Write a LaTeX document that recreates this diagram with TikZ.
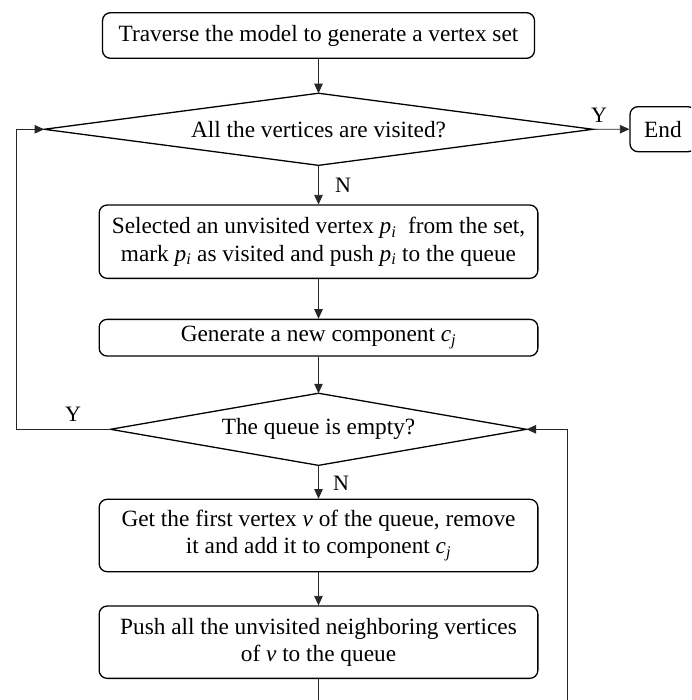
\documentclass[tikz,border=0pt]{standalone}
\usepackage{fontspec}
\setmainfont{Liberation Serif}
\usetikzlibrary{arrows.meta}

% italic variable with italic subscript
\newcommand\ivar[2]{\textit{#1}\textsubscript{\textit{#2}}}

\tikzset{
  base/.style={font=\fontsize{23.3}{27.5}\selectfont, inner sep=0pt, align=center},
  procbox/.style={base, draw=black, line width=1.3pt, rounded corners=8pt,
                  minimum width=438.7pt},
  decision/.style={base},
  diamondline/.style={draw=black, line width=1.3pt},
  flow/.style={draw=black!85, line width=0.8pt, -{Triangle[length=9.5pt,width=8.5pt]}},
  plain/.style={draw=black!85, line width=0.8pt},
  lbl/.style={font=\fontsize{22}{22}\selectfont, inner sep=0pt}
}

\begin{document}
\begin{tikzpicture}[x=1pt, y=-1pt]
  \useasboundingbox (0,0) rectangle (691,700);
  \clip (0,0) rectangle (691,700);

  % process boxes
  \node[procbox, minimum width=432pt, minimum height=45.6pt] (start) at (318.5,35.5)
    {Traverse the model to generate a vertex set};
  \node[procbox, minimum height=73.3pt] (select) at (318.5,241.7)
    {Selected an unvisited vertex \ivar{p}{i}\ \ from the set,\\
     mark \ivar{p}{i} as visited and push \ivar{p}{i} to the queue};
  \node[procbox, minimum height=36.7pt] (newcomp) at (318.5,337.7)
    {Generate a new component \ivar{c}{j}};
  \node[procbox, minimum height=72.4pt] (getfirst) at (318.5,535.5)
    {Get the first vertex \textit{v} of the queue, remove\\
     it and add it to component \ivar{c}{j}};
  \node[procbox, minimum height=72.3pt] (pushnb) at (318.5,642.2)
    {Push all the unvisited neighboring vertices\\
     of \textit{v} to the queue};
  \node[procbox, minimum width=66pt, minimum height=45pt] (finish) at (663,129.2) {End};

  % decisions: named frames, outlines drawn through their anchors
  \node[decision, minimum width=548.4pt, minimum height=71.7pt] (allvis) at (318.5,129.3)
    {All the vertices are visited?};
  \node[decision, minimum width=415.6pt, minimum height=71.7pt] (qempty) at (318.5,429.3)
    {The queue is empty?};
  \path[diamondline] (allvis.west) -- (allvis.north) -- (allvis.east) -- (allvis.south) -- cycle;
  \path[diamondline] (qempty.west) -- (qempty.north) -- (qempty.east) -- (qempty.south) -- cycle;

  % loose ends and corners of the return paths
  \coordinate (loopL) at (16,429.3);
  \coordinate (loopLtop) at (16,129.3);
  \coordinate (downend) at (318.5,700);
  \coordinate (loopR) at (567.7,700);
  \coordinate (loopRtop) at (567.7,429.3);

  % main flow
  \path[flow] (start.south) -- (allvis.north);
  \path[flow] (allvis.south) -- (select.north);
  \path[flow] (select.south) -- (newcomp.north);
  \path[flow] (newcomp.south) -- (qempty.north);
  \path[flow] (qempty.south) -- (getfirst.north);
  \path[flow] (getfirst.south) -- (pushnb.north);
  \path[plain] (pushnb.south) -- (downend);
  \path[flow] (allvis.east) -- (finish.west);

  % return paths
  \path[flow] (qempty.west) -- (loopL) -- (loopLtop) -- (allvis.west);
  \path[flow] (loopR) -- (loopRtop) -- (qempty.east);

  % branch labels
  \node[lbl] (nA) at (343,185) {N};
  \node[lbl] (yA) at (599,115) {Y};
  \node[lbl] (nB) at (341,483) {N};
  \node[lbl] (yB) at (73,414) {Y};
\end{tikzpicture}
\end{document}
